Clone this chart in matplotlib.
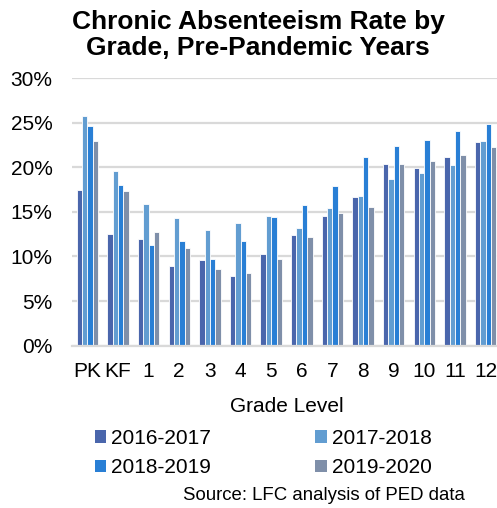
import matplotlib
matplotlib.use("Agg")
import matplotlib.pyplot as plt
import numpy as np
from matplotlib.patches import Patch

plt.rcParams['font.family'] = ['Liberation Sans', 'DejaVu Sans']

grades = ["PK", "KF", "1", "2", "3", "4", "5", "6", "7", "8", "9", "10", "11", "12"]
series_names = ["2016-2017", "2017-2018", "2018-2019", "2019-2020"]
y2016 = [17.4, 12.5, 12.0, 8.9, 9.6, 7.8, 10.3, 12.4, 14.5, 16.7, 20.4, 19.9, 21.2, 22.8]
y2017 = [25.7, 19.6, 15.9, 14.3, 13.0, 13.7, 14.5, 13.2, 15.4, 16.8, 18.7, 19.3, 20.2, 22.9]
y2018 = [24.6, 18.0, 11.3, 11.7, 9.7, 11.7, 14.4, 15.8, 17.9, 21.1, 22.4, 23.1, 24.1, 24.8]
y2019 = [22.9, 17.3, 12.7, 10.9, 8.6, 8.1, 9.7, 12.2, 14.9, 15.5, 20.4, 20.7, 21.4, 22.3]
colors = ["#4a66ac", "#629dd1", "#297fd5", "#7f8fa9"]

fig = plt.figure(figsize=(4.97, 5.08), dpi=100)
ax = fig.add_axes([72/497, 162.3/508, 429/497, 267.7/508])

x = np.arange(len(grades))
w = 0.175
for i, (vals, c) in enumerate(zip([y2016, y2017, y2018, y2019], colors)):
    ax.bar(x + (i - 1.5) * w, vals, width=w, color=c, edgecolor="white",
           linewidth=0.6, zorder=3)

ax.set_xlim(-0.5, len(grades) - 0.5)
ax.set_ylim(0, 30)
ax.set_yticks(np.arange(0, 31, 5))
ax.set_yticklabels([f"{v}%" for v in range(0, 31, 5)], fontsize=15)
ax.set_xticks(x)
ax.set_xticklabels(grades, fontsize=15)
ax.tick_params(axis='y', length=0, pad=14)
ax.tick_params(axis='x', length=0, pad=12)
ax.grid(axis='y', color="#d9d9d9", linewidth=1.6, zorder=0)
for s in ax.spines.values():
    s.set_visible(False)
ax.axhline(0, color="#d9d9d9", linewidth=1.6, zorder=4, clip_on=False)

ax.set_xlabel("Grade Level", fontsize=15, labelpad=11)

fig.text(258/497, 1 - 10/508, "Chronic Absenteeism Rate by\nGrade, Pre-Pandemic Years",
         ha="center", va="top", fontsize=19, fontweight="bold", linespacing=1.13)

# legend filled row-wise like the reference
order = [0, 2, 1, 3]
handles = [Patch(facecolor=colors[i], edgecolor="none") for i in order]
labels = [series_names[i] for i in order]
fig.legend(handles, labels, loc="upper left",
           bbox_to_anchor=(76/497, 1 - 410/508), ncol=2, frameon=False,
           fontsize=15, handlelength=0.55, handleheight=0.55, handletextpad=0.25,
           columnspacing=5.0, labelspacing=0.5)

fig.text(465/497, 1 - 496/508, "Source: LFC analysis of PED data",
         ha="right", va="center", fontsize=13.4)

fig.savefig("out.png", dpi=100)
